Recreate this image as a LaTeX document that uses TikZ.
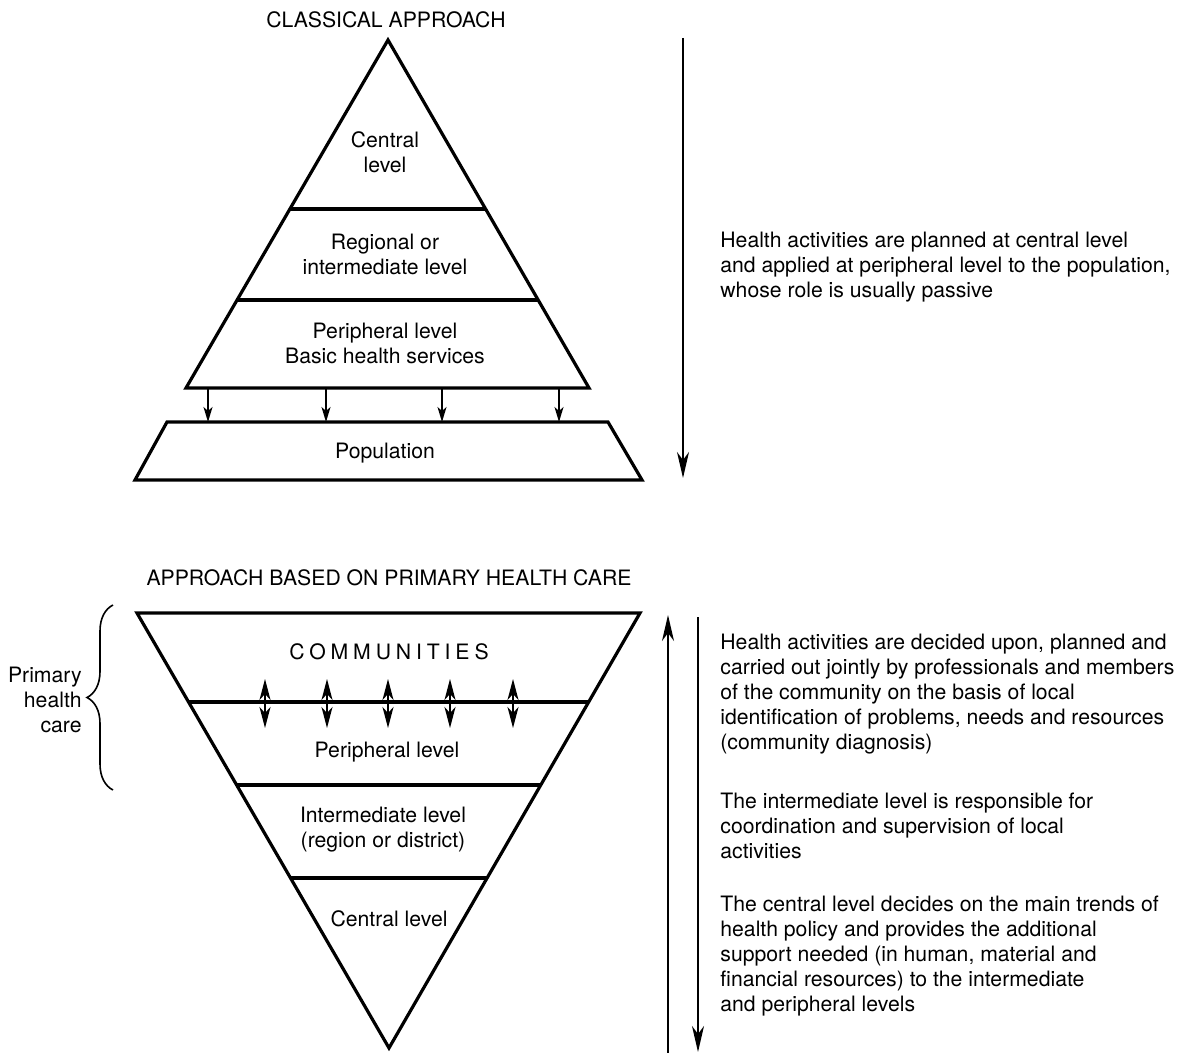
\documentclass[tikz,border=0pt]{standalone}
\usepackage{fontspec}
\setmainfont{TeX Gyre Heros}
\usetikzlibrary{arrows.meta,calc,decorations.pathreplacing}

\begin{document}
\begin{tikzpicture}[x=0.5pt, y=-0.5pt,
    level/.style={align=center, inner sep=0pt, font=\fontsize{10.6}{12.5}\selectfont},
    note/.style={align=left, anchor=west, inner sep=0pt, font=\fontsize{10.6}{12.6}\selectfont},
    frame/.style={black, line width=1.6pt, line join=miter},
    longarrow/.style={black, line width=0.9pt, -{Stealth[length=13pt, width=6pt, inset=4pt]}},
    smallarrow/.style={black, line width=0.7pt, -{Stealth[length=7.5pt, width=4.5pt, inset=2pt]}},
    twoway/.style={black, line width=0.9pt, {Stealth[length=10.5pt, width=5.5pt, inset=3pt]}-{Stealth[length=10.5pt, width=5.5pt, inset=3pt]}}]
    \useasboundingbox (0,0) rectangle (1188,1053);

    % classical approach
    \coordinate (ctop) at (388,40);
    \coordinate (cleft) at (186,388);
    \coordinate (cright) at (589,388);
    \draw[frame] (ctop) -- (cleft) -- (cright) -- cycle;
    \draw[frame] ($(ctop)!{169/348}!(cleft)$) -- ($(ctop)!{169/348}!(cright)$);
    \draw[frame] ($(ctop)!{260/348}!(cleft)$) -- ($(ctop)!{260/348}!(cright)$);
    \draw[frame] (167,422) -- (608,422) -- (642,480) -- (135,480) -- cycle;
    \foreach \x in {208,326,442,559}
        \draw[smallarrow] (\x,388) -- (\x,422);

    \node[level] (ctitle) at (386,20) {CLASSICAL APPROACH};
    \node[level] (ccentral) at (385,152) {Central\\level};
    \node[level] (cregional) at (385,254) {Regional or\\intermediate level};
    \node[level] (cperipheral) at (385,343) {Peripheral level\\Basic health services};
    \node[level] (cpopulation) at (385,453) {Population};

    \coordinate (cdown1) at (683,38);
    \coordinate (cdown2) at (683,478);
    \draw[longarrow] (cdown1) -- (cdown2);
    \node[note] (cnote) at (720,267) {Health activities are planned at central level\\and applied at peripheral level to the population,\\whose role is usually passive};

    % approach based on primary health care
    \coordinate (pleft) at (137,613);
    \coordinate (pright) at (640,613);
    \coordinate (pbottom) at (389,1048);
    \draw[frame] (pleft) -- (pright) -- (pbottom) -- cycle;
    \draw[frame] ($(pleft)!{89/435}!(pbottom)$) -- ($(pright)!{89/435}!(pbottom)$);
    \draw[frame] ($(pleft)!{172/435}!(pbottom)$) -- ($(pright)!{172/435}!(pbottom)$);
    \draw[frame] ($(pleft)!{265/435}!(pbottom)$) -- ($(pright)!{265/435}!(pbottom)$);
    \foreach \x in {265,327,388,450,513}
        \draw[twoway] (\x,679) -- (\x,728);

    \node[level] (ptitle) at (389,578) {APPROACH BASED ON PRIMARY HEALTH CARE};
    \node[level] (pcommunities) at (389,652) {\addfontfeature{LetterSpace=23}COMMUNITIES};
    \node[level] (pperipheral) at (387,752) {Peripheral level};
    \node[level] (pintermediate) at (383,830) {Intermediate level\\(region or district)};
    \node[level] (pcentral) at (389,919) {Central level};

    \coordinate (bracetop) at (113,605);
    \coordinate (bracebottom) at (113,790);
    \draw[black, line width=0.8pt, decorate, decoration={brace, amplitude=13pt}] (bracebottom) -- (bracetop);
    \node[level, align=right, anchor=east] (phc) at (82,700) {Primary\\health\\care};

    \coordinate (pup1) at (668,1053);
    \coordinate (pup2) at (668,615);
    \draw[longarrow] (pup1) -- (pup2);
    \coordinate (pdown1) at (698,617);
    \coordinate (pdown2) at (698,1052);
    \draw[longarrow] (pdown1) -- (pdown2);

    \node[note] (pnote1) at (720,694) {Health activities are decided upon, planned and\\carried out jointly by professionals and members\\of the community on the basis of local\\identification of problems, needs and resources\\(community diagnosis)};
    \node[note] (pnote2) at (720,826) {The intermediate level is responsible for\\coordination and supervision of local\\activities};
    \node[note] (pnote3) at (720,956) {The central level decides on the main trends of\\health policy and provides the additional\\support needed (in human, material and\\financial resources) to the intermediate\\and peripheral levels};
\end{tikzpicture}
\end{document}
